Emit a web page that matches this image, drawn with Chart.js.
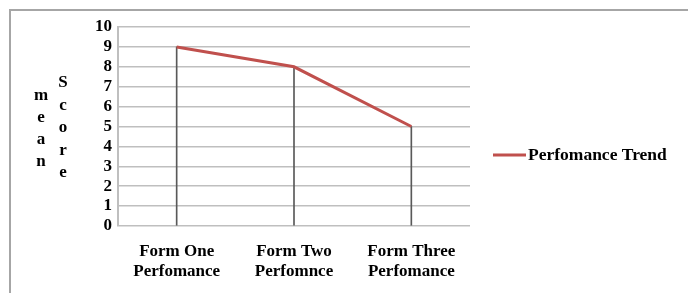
<!DOCTYPE html>
<html>
<head>
<meta charset="utf-8">
<script src="https://cdn.jsdelivr.net/npm/chart.js@4.4.1/dist/chart.umd.min.js"></script>
<style>
  html, body { margin: 0; padding: 0; background: #fff; }
  #wrap { width: 688px; height: 293px; position: relative; }
</style>
</head>
<body>
<div id="wrap"><canvas id="chart" width="688" height="293"></canvas></div>
<script>
// chart data
const categories = [["Form One", "Perfomance"], ["Form Two", "Perfomnce"], ["Form Three", "Perfomance"]];
const trendValues = [9, 8, 5];
const seriesName = "Perfomance Trend";
const yMin = 0, yMax = 10, yStep = 1;

const FONT = "'Liberation Serif', 'Times New Roman', serif";
const lineColor = "#c0504d";

// draws the frame, the stacked "mean Score" title and the legend
const decorations = {
    id: "decorations",
    beforeDraw(chart) {
        const ctx = chart.ctx;
        ctx.save();
        ctx.fillStyle = "#fff";
        ctx.fillRect(0, 0, chart.width, chart.height);
        ctx.strokeStyle = "#a6a6a6";
        ctx.lineWidth = 2;
        ctx.beginPath();
        ctx.moveTo(10, chart.height);
        ctx.lineTo(10, 10);
        ctx.lineTo(chart.width, 10);
        ctx.stroke();
        ctx.restore();
    },
    afterDraw(chart) {
        const ctx = chart.ctx;
        ctx.save();
        ctx.fillStyle = "#000";
        ctx.font = "bold 17px " + FONT;
        ctx.textAlign = "center";
        ctx.textBaseline = "middle";
        "mean".split("").forEach((ch, i) => ctx.fillText(ch, 41, 96 + i * 22));
        "Score".split("").forEach((ch, i) => ctx.fillText(ch, 63, 83 + i * 22.5));

        // legend
        ctx.strokeStyle = lineColor;
        ctx.lineWidth = 3;
        ctx.beginPath();
        ctx.moveTo(493, 155);
        ctx.lineTo(526, 155);
        ctx.stroke();
        ctx.font = "bold 17.5px " + FONT;
        ctx.textAlign = "left";
        ctx.fillText(chart.data.datasets[0].label, 528, 155);
        ctx.restore();
    }
};

new Chart(document.getElementById("chart"), {
    data: {
        labels: categories,
        datasets: [{
            type: "line",
            label: seriesName,
            data: trendValues,
            borderColor: lineColor,
            borderWidth: 3,
            pointRadius: 0,
            tension: 0,
            order: 0
        }, {
            // drop lines from each point to the axis
            type: "bar",
            label: "drop",
            data: trendValues,
            backgroundColor: "#595959",
            barThickness: 1,
            order: 1
        }]
    },
    options: {
        responsive: false,
        animation: false,
        layout: { padding: { left: 0, top: 27, right: 218, bottom: 0 } },
        plugins: {
            legend: { display: false },
            tooltip: { enabled: false }
        },
        scales: {
            x: {
                offset: true,
                grid: { display: false, drawTicks: false },
                border: { display: false },
                ticks: {
                    color: "#000",
                    font: { family: FONT, size: 17, weight: "bold", lineHeight: 1.18 },
                    padding: 16,
                    maxRotation: 0
                },
                afterFit(scale) { scale.height = 67; }
            },
            y: {
                min: yMin,
                max: yMax,
                grid: { color: "#bfbfbf", lineWidth: 1.5, drawTicks: false },
                border: { color: "#bfbfbf", width: 2 },
                ticks: {
                    stepSize: yStep,
                    autoSkip: false,
                    color: "#000",
                    font: { family: FONT, size: 17, weight: "bold" },
                    padding: 6
                },
                afterFit(scale) { scale.width = 118; }
            }
        }
    },
    plugins: [decorations]
});
</script>
</body>
</html>
